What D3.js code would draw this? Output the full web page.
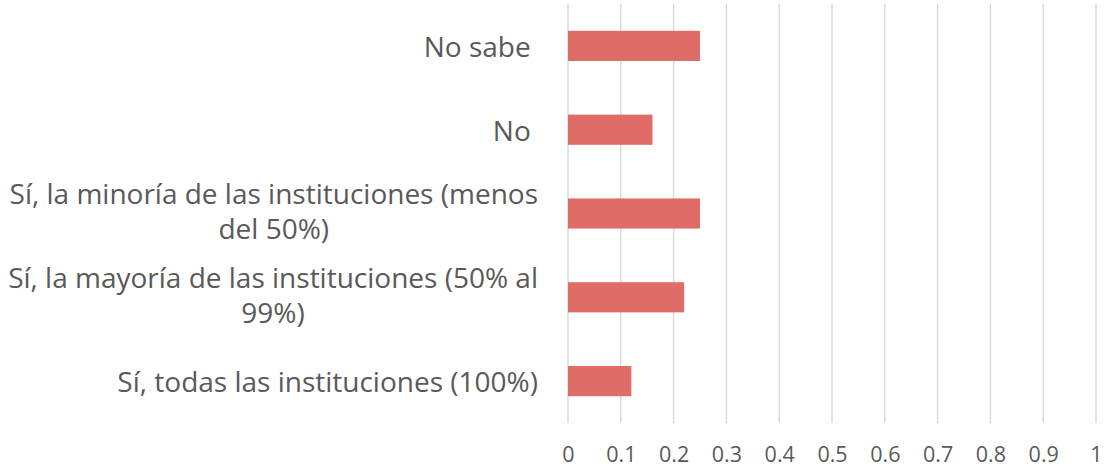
<!DOCTYPE html>
<html>
<head>
<meta charset="utf-8">
<script src="https://cdn.jsdelivr.net/npm/d3@7"></script>
<style>
  html, body { margin: 0; padding: 0; background: #fff; }
  svg { display: block; }
  text { font-family: "Open Sans", "Noto Sans", sans-serif; fill: #595959; white-space: pre; }
</style>
</head>
<body>
<script>
// Data (top to bottom as shown)
const categories = [
  ["No sabe "],
  ["No "],
  ["Sí, la minoría de las instituciones (menos", "del 50%)"],
  ["Sí, la mayoría de las instituciones (50% al", "99%)"],
  ["Sí, todas las instituciones (100%)"]
];
const values = [0.25, 0.16, 0.25, 0.22, 0.12];
const tickValues = [0, 0.1, 0.2, 0.3, 0.4, 0.5, 0.6, 0.7, 0.8, 0.9, 1];

const W = 1115, H = 469;
const svg = d3.select("body").append("svg").attr("width", W).attr("height", H);

const x = d3.scaleLinear().domain([0, 1]).range([568, 1096]);
const y = d3.scaleBand().domain(d3.range(categories.length)).range([4, 423]).paddingInner(0.64).paddingOuter(0.32);

// gridlines
svg.append("g").selectAll("line").data(tickValues).join("line")
  .attr("x1", d => x(d)).attr("x2", d => x(d))
  .attr("y1", 4).attr("y2", 423)
  .attr("stroke", "#d9d9d9").attr("stroke-width", 1.4);

// bars
svg.append("g").selectAll("rect").data(values).join("rect")
  .attr("x", x(0)).attr("y", (d, i) => y(i))
  .attr("width", d => x(d) - x(0)).attr("height", y.bandwidth())
  .attr("fill", "#E06C68");

// x tick labels
const xAxis = d3.axisBottom(x).tickValues(tickValues).tickFormat(d => String(d)).tickSize(0).tickPadding(0);
const gx = svg.append("g").attr("transform", "translate(0,440)").call(xAxis);
gx.select(".domain").remove();
gx.selectAll("text").attr("font-size", 21.5).attr("dy", null).attr("y", 21.7)
  .style("font-family", '"Open Sans", "Noto Sans", sans-serif').style("fill", "#595959");

// category labels
const rightEdge = 538;
const lineH = 35;
const lab = svg.append("g");
categories.forEach((lines, i) => {
  const c = y(i) + y.bandwidth() / 2;
  const g = lab.append("g");
  const texts = lines.map((t, k) => g.append("text").attr("font-size", 28).text(t));
  const widths = texts.map(t => t.node().getComputedTextLength());
  const maxW = d3.max(widths);
  const cx = rightEdge - maxW / 2;
  const n = lines.length;
  const base0 = c + 11 - (n - 1) * lineH / 2 - (n > 1 ? 3 : 0);
  texts.forEach((t, k) => {
    t.attr("x", cx).attr("text-anchor", "middle").attr("y", base0 + k * lineH);
  });
});
</script>
</body>
</html>
